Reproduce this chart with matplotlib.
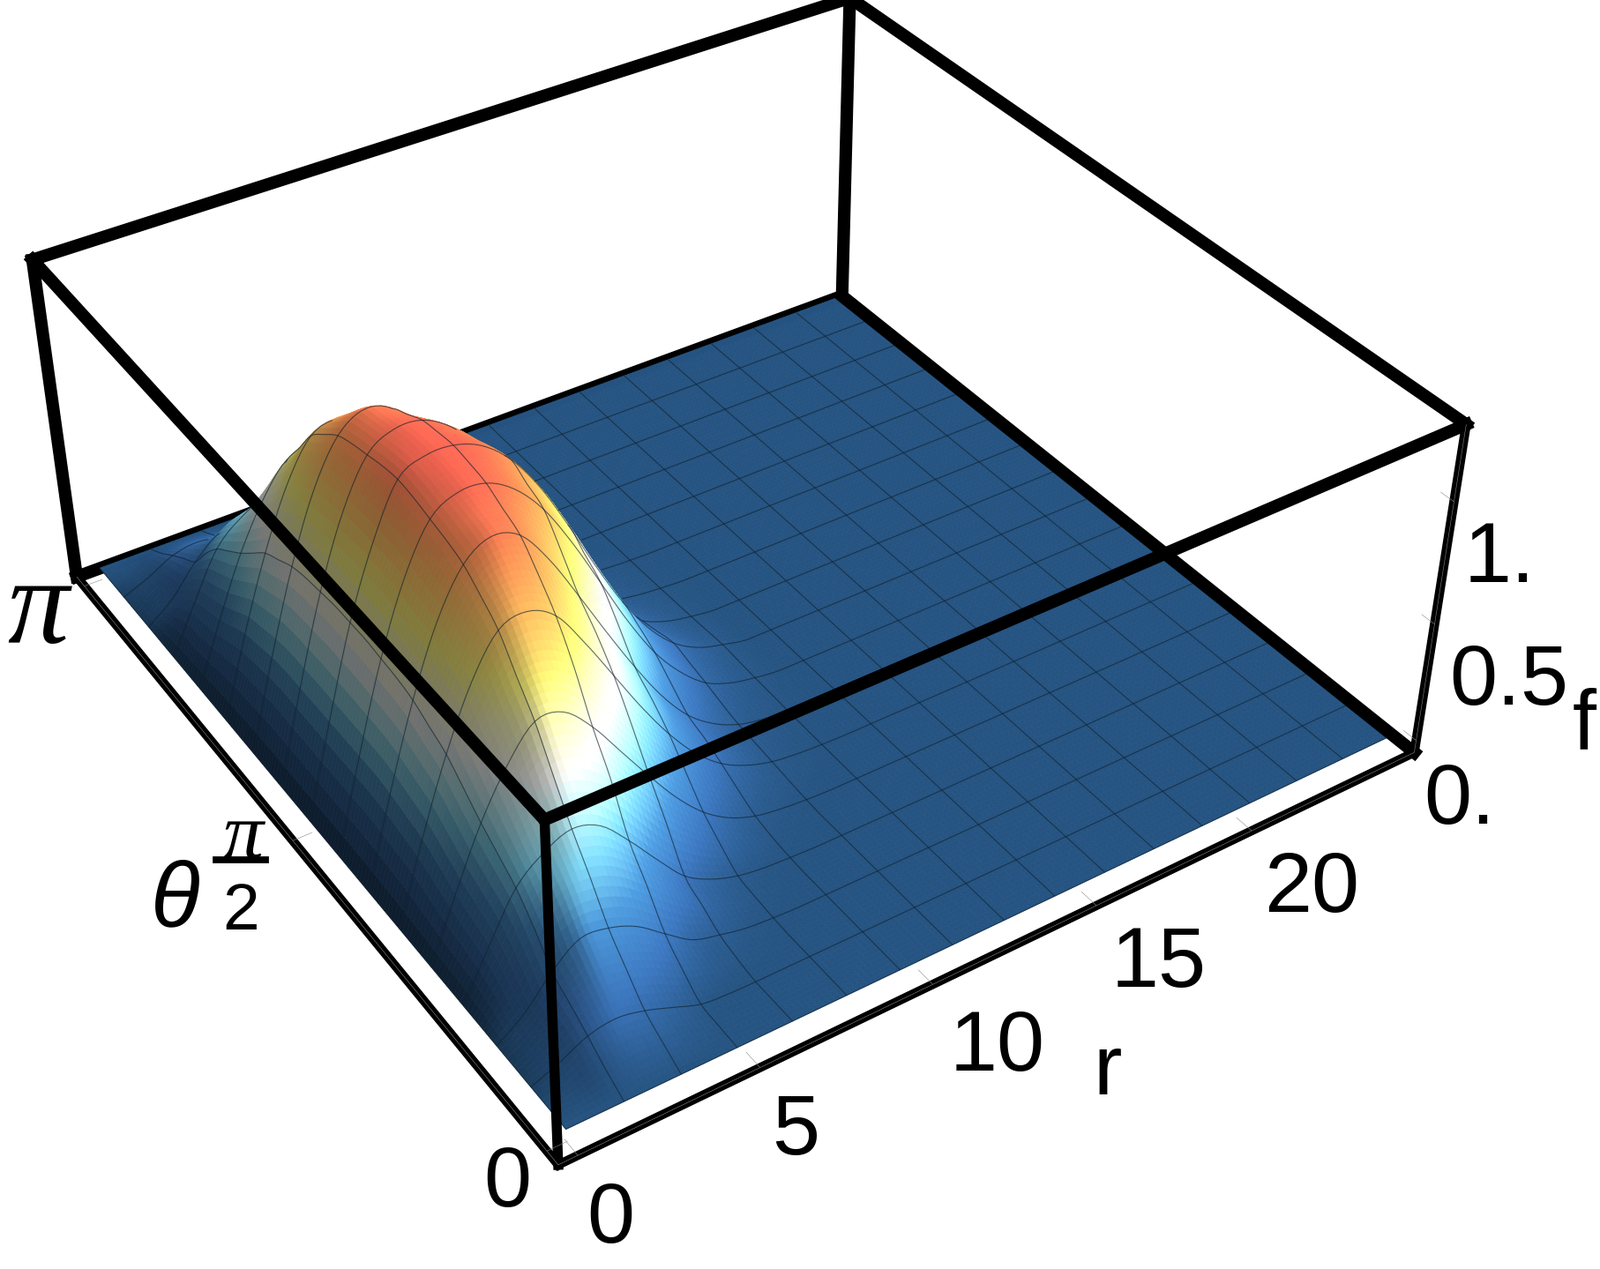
import numpy as np
import matplotlib
matplotlib.use('Agg')
import matplotlib.pyplot as plt
from matplotlib.colors import LinearSegmentedColormap
from matplotlib.lines import Line2D

W, H = 1815, 1439

# ---- values
r_step = 25 / 32
theta_step = np.pi / 32
# height of the hump as read; one row per theta = k*pi/32, k = 0..16, columns r = j*25/32, j = 0..16
hump_rows = [
    [0, 0, 0, 0, 0, 0, 0, 0, 0, 0, 0, 0, 0, 0, 0, 0, 0],
    [0, .02, .05, .06, .05, .025, .006, 0, 0, 0, 0, 0, 0, 0, 0, 0, 0],
    [0, .05, .11, .13, .105, .06, .015, .003, 0, 0, 0, 0, 0, 0, 0, 0, 0],
    [0, .07, .165, .215, .2, .15, .08, .035, .015, .005, 0, 0, 0, 0, 0, 0, 0],
    [0, .09, .22, .31, .30, .25, .16, .075, .04, .015, .005, 0, 0, 0, 0, 0, 0],
    [0, .16, .33, .43, .44, .39, .29, .18, .09, .04, .015, .005, 0, 0, 0, 0, 0],
    [0, .22, .42, .52, .57, .53, .41, .27, .14, .07, .03, .012, .005, 0, 0, 0, 0],
    [0, .25, .48, .63, .72, .70, .60, .44, .29, .17, .09, .04, .015, .005, 0, 0, 0],
    [0, .28, .54, .74, .875, .865, .75, .59, .43, .28, .16, .08, .035, .015, .005, 0, 0],
    [0, .32, .61, .84, .99, 1.01, .93, .76, .58, .41, .26, .15, .075, .035, .014, .005, .002],
    [0, .36, .68, .94, 1.11, 1.14, 1.075, .91, .72, .53, .36, .22, .12, .06, .025, .01, .003],
    [0, .38, .72, 1.0, 1.18, 1.23, 1.18, 1.02, .83, .63, .44, .28, .16, .08, .035, .015, .005],
    [0, .40, .76, 1.05, 1.24, 1.31, 1.27, 1.12, .92, .71, .51, .33, .19, .10, .045, .02, .008],
    [0, .41, .78, 1.07, 1.27, 1.335, 1.31, 1.2, 1.04, .84, .63, .43, .26, .14, .065, .03, .012],
    [0, .41, .79, 1.09, 1.29, 1.355, 1.35, 1.28, 1.15, .96, .74, .52, .33, .19, .09, .04, .015],
    [0, .41, .80, 1.10, 1.31, 1.37, 1.365, 1.31, 1.19, 1.02, .80, .58, .38, .22, .11, .05, .02],
    [0, .41, .80, 1.10, 1.32, 1.375, 1.375, 1.33, 1.23, 1.07, .86, .63, .42, .25, .13, .06, .025],
]
read_unit = .927   # the table was read against a f scale that the ticks put 7 % too fine
r_ticks = [0, 5, 10, 15, 20]
theta_ticks = [0, np.pi / 2, np.pi]
f_ticks = [0, .5, 1]

r_lim = (-.52, 25.52)
theta_lim = (-.0628, np.pi + .0628)
f_lim = (-.053, 1.302)
# box corners in the picture, pixels
corner_px = {
    (0, 0, 0): (633, 1322), (1, 0, 0): (1603, 852), (1, 1, 0): (955, 336), (0, 1, 0): (87, 654),
    (0, 0, 1): (617, 928), (1, 0, 1): (1663, 483), (1, 1, 1): (963, -3), (0, 1, 1): (37, 295),
}

half = np.array(hump_rows)
table = np.zeros((33, 33))
table[:, :17] = np.vstack([half, half[-2::-1]])
r_nodes = r_step * np.arange(33)
theta_nodes = theta_step * np.arange(33)

# the drawn sheet is split finer than the table so that its outline and colours run smoothly
REF = 5
r_fine = np.linspace(0, 25, 32 * REF + 1)
theta_fine = np.linspace(0, np.pi, 32 * REF + 1)


def smooth_1d(a):
    """Catmull-Rom sheet through the values of a, along its last axis."""
    pad = np.concatenate([2 * a[..., :1] - a[..., 1:2], a, 2 * a[..., -1:] - a[..., -2:-1]], axis=-1)
    out = []
    for i in range(a.shape[-1] - 1):
        t = (np.arange(REF) / REF)[(None,) * (a.ndim - 1)]
        p0, p1, p2, p3 = pad[..., i:i + 1], pad[..., i + 1:i + 2], pad[..., i + 2:i + 3], pad[..., i + 3:i + 4]
        out.append(.5 * (2 * p1 + (p2 - p0) * t + (2 * p0 - 5 * p1 + 4 * p2 - p3) * t ** 2 + (3 * p1 - p0 - 3 * p2 + p3) * t ** 3))
    out.append(a[..., -1:])
    return np.concatenate(out, axis=-1)


def refine(a):
    return np.swapaxes(smooth_1d(np.swapaxes(smooth_1d(a), 0, 1)), 0, 1)


table_fine = np.clip(refine(table), 0, None)
Z = table_fine * read_unit
R, T = np.meshgrid(r_fine, theta_fine)


def world(u, v, w):
    return (r_lim[0] + u * (r_lim[1] - r_lim[0]), theta_lim[0] + v * (theta_lim[1] - theta_lim[0]),
            f_lim[0] + w * (f_lim[1] - f_lim[0]))


rows = []
for (u, v, w), (px, py) in corner_px.items():
    X = np.array([*world(u, v, w), 1.0])
    rows.append(np.r_[X, 0 * X, -px * X])
    rows.append(np.r_[0 * X, X, -py * X])
A = np.array(rows)
scale = np.abs(A).max(axis=0)
_, _, Vh = np.linalg.svd(A / scale)
P_px = (Vh[-1] / scale).reshape(3, 4)
_, _, Vc = np.linalg.svd(P_px)
cam = Vc[-1][:3] / Vc[-1][3]

fig = plt.figure(figsize=(W / 100, H / 100), dpi=100)
ax = fig.add_axes([0, (H - W) / 2 / H, 1, W / H], projection='3d')
ax.set_axis_off()
ax.computed_zorder = False
ax.set_xlim(*r_lim); ax.set_ylim(*theta_lim); ax.set_zlim(*f_lim)


def camera_proj():
    T2 = ax.transData.inverted().get_matrix()
    F = np.array([[1, 0, 0], [0, -1, H], [0, 0, 1.]])
    P = T2 @ F @ P_px
    c = np.array([*world(.5, .5, .5), 1.0])
    P = P / (P[2] @ c)
    return np.array([P[0], P[1], [0, 0, 0, -1.], P[2]])


ax.get_proj = camera_proj

# surface colours: height ramp, dimmed on the slope that faces r = 0
ramp_z = [0, .15, .32, .48, .58, .72, .85, .97, 1.15, 1.28, 1.375]
ramp_c = ['#265482', '#3a73b9', '#4b96d7', '#82dcfa', '#b9f5ff', '#fffffa', '#fffdbe', '#fff578', '#ffb95f', '#ff8c55', '#ff6955']
cmap = LinearSegmentedColormap.from_list('h', list(zip(np.array(ramp_z) / 1.375, ramp_c)))
slope = np.gradient(table_fine, r_fine[1], axis=1)
dim_floor = .30 + .24 * table_fine / 1.375
shade_nodes = np.where(slope > 0, 1 - (1 - dim_floor) * (1 - np.exp(-slope / .13)), 1 + .08 * (1 - np.exp(slope / .1)))
cell = lambda a: (a[:-1, :-1] + a[1:, :-1] + a[:-1, 1:] + a[1:, 1:]) / 4
rgb = cmap(np.clip(cell(table_fine) / 1.375, 0, 1))
rgb[..., :3] = np.clip(rgb[..., :3] * cell(shade_nodes)[..., None], 0, 1)
n = len(theta_fine)
face = np.ones((n, n, 4))
face[:-1, :-1] = rgb
ax.plot_surface(R, T, Z, facecolors=face, rstride=1, cstride=1, shade=False, linewidth=.5,
                antialiased=True, zorder=2)


def height(q_r, q_t):
    step_r = r_fine[1]; step_t = theta_fine[1]
    a = np.clip(q_r / step_r, 0, n - 1.001); b = np.clip(q_t / step_t, 0, n - 1.001)
    i = a.astype(int); j = b.astype(int); a = a - i; b = b - j
    v = (Z[j, i] * (1 - a) * (1 - b) + Z[j, i + 1] * a * (1 - b) + Z[j + 1, i] * (1 - a) * b + Z[j + 1, i + 1] * a * b)
    v[(q_r < 0) | (q_r > 25) | (q_t < 0) | (q_t > np.pi)] = -9
    return v


def draw_mesh(x, y, z):
    s = np.linspace(.004, .5, 140)[:, None]
    qr = x + s * (cam[0] - x); qt = y + s * (cam[1] - y); qz = z + s * (cam[2] - z)
    hidden = np.any(qz < height(qr, qt) - .004, axis=0)
    z = z.copy(); z[hidden] = np.nan
    ax.plot(x, y, z, color='#10202c', alpha=.66, lw=.8, zorder=3, solid_capstyle='butt')


for i in range(2 * REF, 32 * REF, 2 * REF):
    draw_mesh(R[:, i], T[:, i], Z[:, i])
    draw_mesh(R[i, :], T[i, :], Z[i, :])
# outline of the surface
draw_mesh(R[0, :], T[0, :], Z[0, :])
draw_mesh(R[:, 0], T[:, 0], Z[:, 0])


def edge(a, b, lw, z):
    pa, pb = world(*a), world(*b)
    ax.plot(*[[p, q] for p, q in zip(pa, pb)], color='k', lw=lw, zorder=z, solid_capstyle='projecting')


def thin(pa, pb):
    ax.plot(*[[p, q] for p, q in zip(pa, pb)], color='#8a8a8a', lw=.4, zorder=6, solid_capstyle='butt')


B = 10.2
for a, b in [((0, 1, 0), (1, 1, 0)), ((1, 1, 0), (1, 1, 1))]:
    edge(a, b, B, 1)
for a, b in [((1, 1, 0), (1, 0, 0)), ((0, 1, 0), (0, 1, 1)), ((0, 1, 1), (1, 1, 1)), ((1, 1, 1), (1, 0, 1)),
             ((0, 1, 1), (0, 0, 1)), ((0, 0, 1), (1, 0, 1))]:
    edge(a, b, B, 5)
edge((0, 0, 0), (0, 0, 1), 8.2, 5)
for a, b in [((0, 0, 0), (1, 0, 0)), ((0, 0, 0), (0, 1, 0))]:
    edge(a, b, 7.4, 5)
edge((1, 0, 0), (1, 0, 1), 7.6, 5)
for a, b in [((0, 0, 0), (1, 0, 0)), ((0, 0, 0), (0, 1, 0)), ((1, 0, 0), (1, 0, 1))]:
    thin(world(*a), world(*b))

# ticks
for r in r_ticks:
    thin((r, theta_lim[0], f_lim[0]), (r, theta_lim[0] + .075, f_lim[0]))
for th in theta_ticks:
    thin((r_lim[0], th, f_lim[0]), (r_lim[0] + .55, th, f_lim[0]))
for fv in f_ticks:
    thin((r_lim[1], theta_lim[0], fv), (r_lim[1], theta_lim[0] + .06, fv))


def label(px, py, s, size=70, family='Liberation Sans', style='normal'):
    fig.text(px / W, 1 - (py + 4) / H, s, fontsize=size, family=family, style=style, ha='center', va='center', color='k')


for s, x, y in [('0', 692, 1380), ('5', 902, 1280), ('10', 1131, 1185), ('15', 1314, 1090), ('20', 1487, 1005),
                ('r', 1256, 1212), ('0', 575, 1339), ('0.', 1655, 905), ('0.5', 1711, 770), ('1.', 1700, 631), ('f', 1796, 820)]:
    label(x, y, s)
label(199, 1019, 'θ', size=74, style='italic')
label(43, 692, 'π', size=100, family='Liberation Serif', style='italic')
label(275, 947, 'π', size=66, family='Liberation Serif', style='italic')
label(273, 1030, '2', size=54)
fig.add_artist(Line2D([245 / W, 301 / W], [1 - 975 / H] * 2, color='k', lw=5.6, transform=fig.transFigure))

fig.savefig('out.png', dpi=100)
